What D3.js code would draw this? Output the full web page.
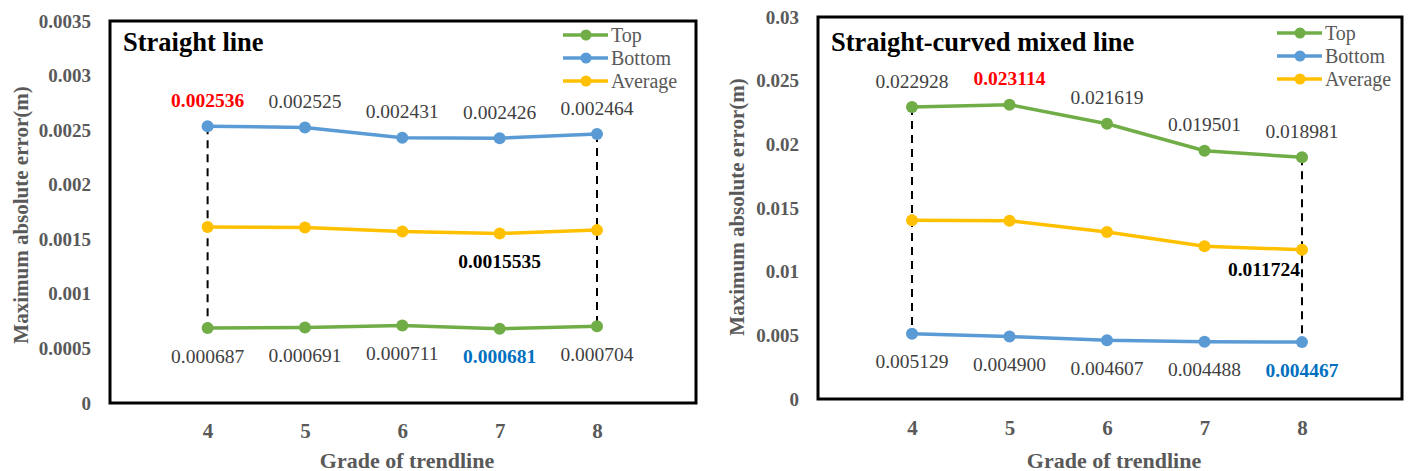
<!DOCTYPE html>
<html>
<head>
<meta charset="utf-8">
<script src="https://cdn.jsdelivr.net/npm/d3@7"></script>
<style>
  body { margin: 0; background: #fff; }
  text { font-family: "Liberation Serif", "Times New Roman", serif; }
</style>
</head>
<body>
<div id="chart"></div>
<script>
// grades on the x axis
const grades = [4, 5, 6, 7, 8]
const seriesNames = ["Top", "Bottom", "Average"]
const seriesColors = ["#70AD47", "#5B9BD5", "#FFC000"]

// straight line panel
const straightTop = [0.000687, 0.000691, 0.000711, 0.000681, 0.000704]
const straightBottom = [0.002536, 0.002525, 0.002431, 0.002426, 0.002464]
const straightAverage = [0.0016115, 0.001608, 0.001571, 0.0015535, 0.001584]
const straightTicks = [0, 0.0005, 0.001, 0.0015, 0.002, 0.0025, 0.003, 0.0035]

// straight-curved mixed line panel
const mixedTop = [0.022928, 0.023114, 0.021619, 0.019501, 0.018981]
const mixedBottom = [0.005129, 0.004900, 0.004607, 0.004488, 0.004467]
const mixedAverage = [0.0140285, 0.014007, 0.013113, 0.0119945, 0.011724]
const mixedTicks = [0, 0.005, 0.01, 0.015, 0.02, 0.025, 0.03]

const W = 1408, H = 471
const svg = d3.select("#chart").append("svg")
    .attr("width", W)
    .attr("height", H)

const gray = "#595959"
const labelGray = "#404040"

function drawPanel(p) {
    const x = d3.scalePoint().domain(grades).range([p.x0, p.x1])
    const y = d3.scaleLinear().domain([0, p.ymax]).range([p.bottom, p.top])
    const g = svg.append("g")

    // y axis labels
    const yAxis = g.append("g")
        .attr("transform", "translate(" + p.boxLeft + ",0)")
        .call(d3.axisLeft(y).tickValues(p.ticks).tickSize(0).tickPadding(19)
            .tickFormat(d => String(+d.toFixed(6))))
    yAxis.select(".domain").remove()
    yAxis.selectAll("text")
        .style("font-family", "Liberation Serif")
        .style("font-size", "19px")
        .style("font-weight", "bold")
        .attr("fill", gray)

    // x axis labels
    const xAxis = g.append("g")
        .attr("transform", "translate(0," + p.bottom + ")")
        .call(d3.axisBottom(x).tickSize(0).tickPadding(p.xPad))
    xAxis.select(".domain").remove()
    xAxis.selectAll("text")
        .style("font-family", "Liberation Serif")
        .style("font-size", "21px")
        .style("font-weight", "bold")
        .attr("fill", gray)

    // box round the plot
    g.append("rect")
        .attr("x", p.boxLeft)
        .attr("y", p.top)
        .attr("width", p.boxRight - p.boxLeft)
        .attr("height", p.bottom - p.top)
        .attr("fill", "none")
        .attr("stroke", "#000")
        .attr("stroke-width", 3)

    // titles
    g.append("text")
        .attr("x", p.boxLeft + 13)
        .attr("y", 42)
        .attr("dominant-baseline", "central")
        .attr("font-size", 26.5)
        .attr("font-weight", "bold")
        .attr("fill", "#000")
        .text(p.title)
    g.append("text")
        .attr("x", (p.boxLeft + p.boxRight) / 2 + 4)
        .attr("y", 460)
        .attr("text-anchor", "middle")
        .attr("dominant-baseline", "central")
        .attr("font-size", 22)
        .attr("font-weight", "bold")
        .attr("fill", gray)
        .text("Grade of trendline")
    g.append("text")
        .attr("transform", "translate(" + p.yTitleX + "," + p.yTitleY + ") rotate(-90)")
        .attr("text-anchor", "middle")
        .attr("dominant-baseline", "central")
        .attr("font-size", 21)
        .attr("font-weight", "bold")
        .attr("fill", gray)
        .text("Maximum absolute error(m)")

    // dashed drop lines at both ends
    const hi = p.series[p.upper], lo = p.series[p.lower]
    ;[0, grades.length - 1].forEach(i => {
        g.append("line")
            .attr("x1", x(grades[i])).attr("x2", x(grades[i]))
            .attr("y1", y(hi[i])).attr("y2", y(lo[i]))
            .attr("stroke", "#000")
            .attr("stroke-width", 2)
            .attr("stroke-dasharray", "8,6")
    })

    // series lines and markers
    const line = d3.line().x((d, i) => x(grades[i])).y(d => y(d))
    p.series.forEach((vals, s) => {
        g.append("path")
            .attr("d", line(vals))
            .attr("fill", "none")
            .attr("stroke", seriesColors[s])
            .attr("stroke-width", 3.5)
        g.selectAll(null).data(vals).enter().append("circle")
            .attr("cx", (d, i) => x(grades[i]))
            .attr("cy", d => y(d))
            .attr("r", 6)
            .attr("fill", seriesColors[s])
    })

    // data labels
    function labels(vals, dy, fmt, styles) {
        vals.forEach((v, i) => {
            const st = styles[i]
            if (st === null) return
            g.append("text")
                .attr("x", x(grades[i]) + (st.dx || 0))
                .attr("y", y(v) + dy + (st.dy || 0))
                .attr("text-anchor", st.anchor || "middle")
                .attr("dominant-baseline", "central")
                .attr("font-size", 19.5)
                .attr("font-weight", st.bold ? "bold" : "normal")
                .attr("fill", st.color || labelGray)
                .text(d3.format(fmt)(v))
        })
    }
    labels(p.series[p.upper], -26, ".6f", p.upperStyles)
    labels(p.series[p.lower], 28, ".6f", p.lowerStyles)
    labels(p.series[2], p.avgDy, ".7~f", p.avgStyles)

    // legend
    seriesNames.forEach((name, s) => {
        const ly = p.legendY + s * 23
        g.append("line")
            .attr("x1", p.legendX).attr("x2", p.legendX + 45)
            .attr("y1", ly).attr("y2", ly)
            .attr("stroke", seriesColors[s])
            .attr("stroke-width", 3.5)
        g.append("circle")
            .attr("cx", p.legendX + 23).attr("cy", ly).attr("r", 5.5)
            .attr("fill", seriesColors[s])
        g.append("text")
            .attr("x", p.legendX + 48)
            .attr("y", ly)
            .attr("dominant-baseline", "central")
            .attr("font-size", 20)
            .attr("fill", gray)
            .text(name)
    })
}

const plain = {}
drawPanel({
    title: "Straight line",
    series: [straightTop, straightBottom, straightAverage],
    upper: 1, lower: 0,
    ymax: 0.0035, ticks: straightTicks,
    x0: 207.6, x1: 597,
    top: 21, bottom: 403,
    boxLeft: 110, boxRight: 696,
    xPad: 20,
    yTitleX: 21, yTitleY: 215,
    legendX: 563, legendY: 35,
    upperStyles: [{ bold: true, color: "#FF0000" }, plain, plain, plain, plain],
    lowerStyles: [plain, plain, plain, { bold: true, color: "#0070C0" }, plain],
    avgDy: 28,
    avgStyles: [null, null, null, { bold: true, color: "#000" }, null]
})

drawPanel({
    title: "Straight-curved mixed line",
    series: [mixedTop, mixedBottom, mixedAverage],
    upper: 0, lower: 1,
    ymax: 0.03, ticks: mixedTicks,
    x0: 912, x1: 1302,
    top: 17, bottom: 399,
    boxLeft: 818, boxRight: 1402,
    xPad: 21,
    yTitleX: 737, yTitleY: 207,
    legendX: 1277, legendY: 33,
    upperStyles: [plain, { bold: true, color: "#FF0000" }, plain, plain, plain],
    lowerStyles: [plain, plain, plain, plain, { bold: true, color: "#0070C0" }],
    avgDy: 20,
    avgStyles: [null, null, null, null, { bold: true, color: "#000", anchor: "end", dx: -2 }]
})
</script>
</body>
</html>
